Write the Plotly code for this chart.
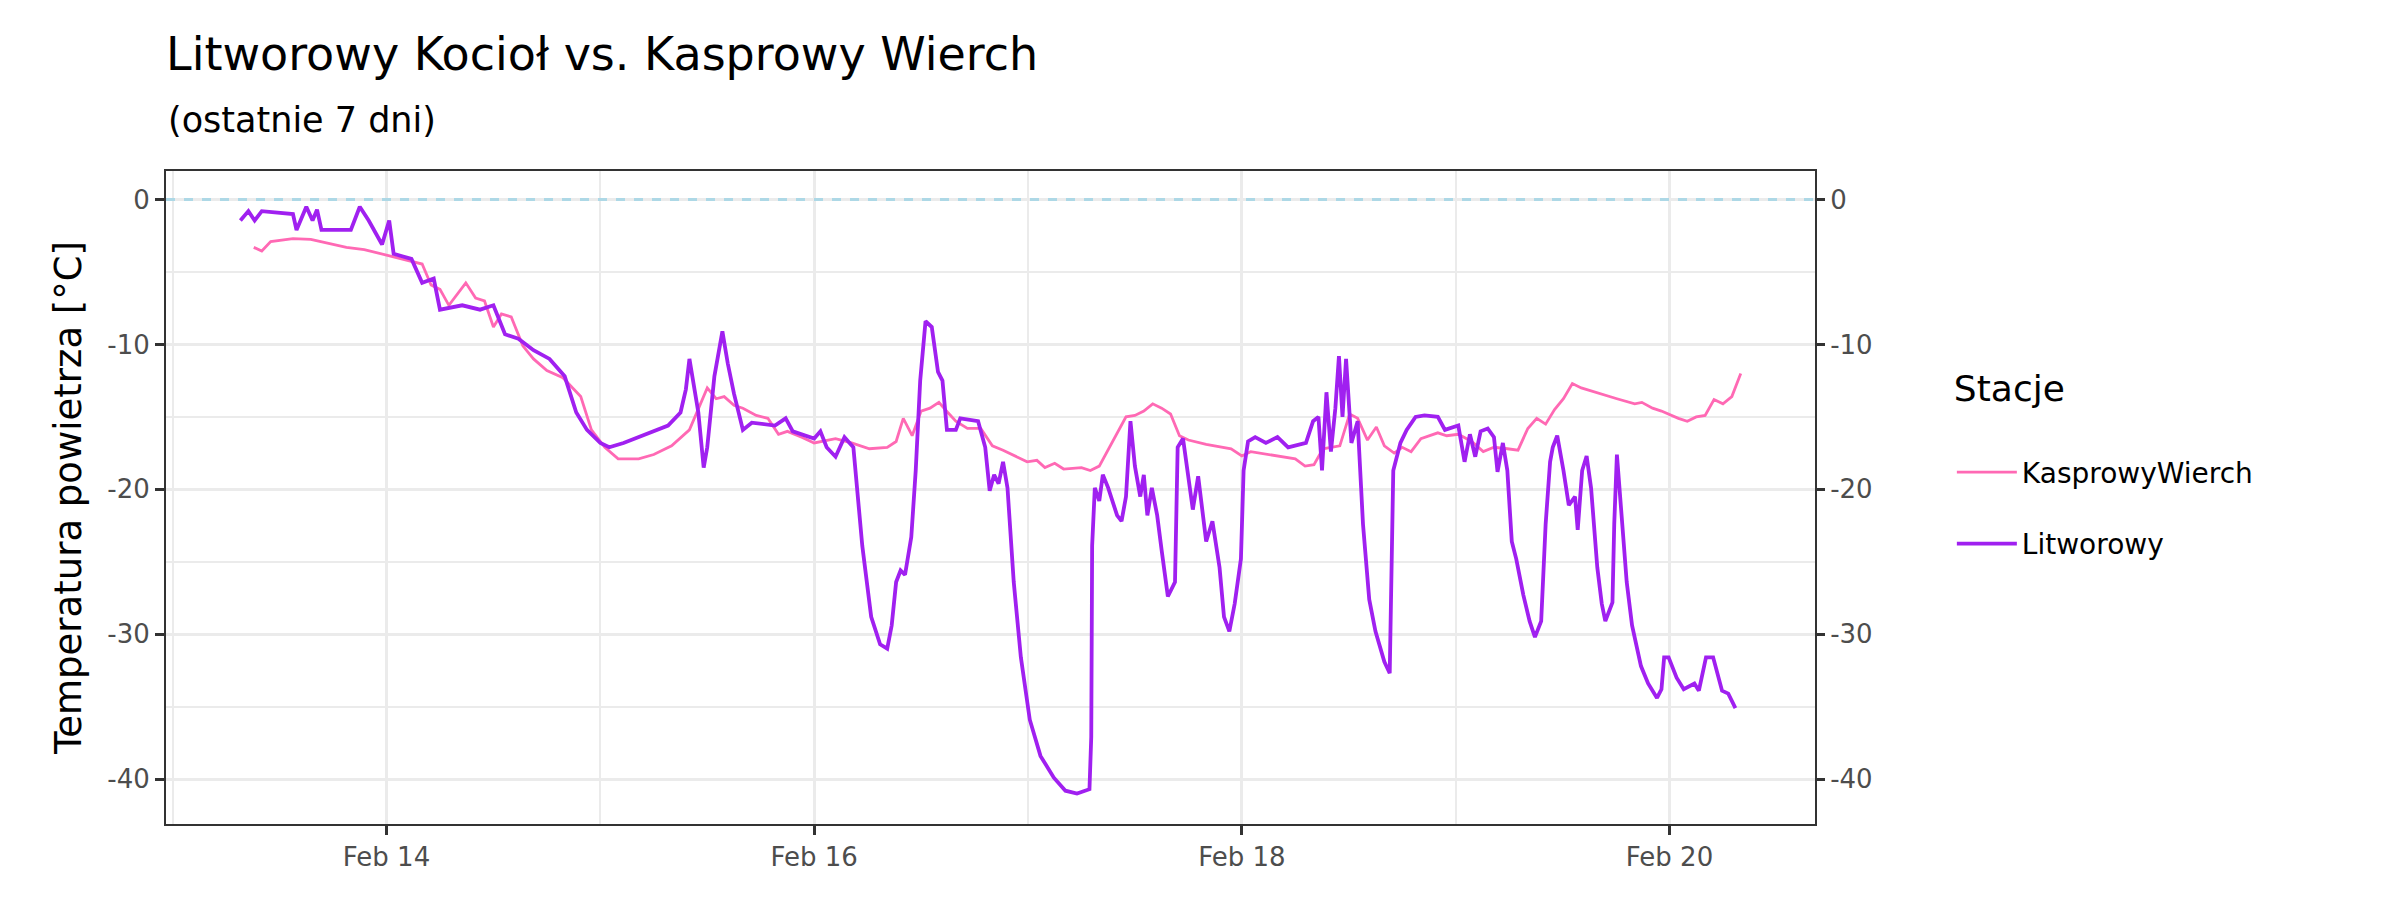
import pandas as pd
import plotly.graph_objects as go

# hours since 2025-02-13 00:00
lit_hours = [7.6, 8.5, 9.2, 10, 13.5, 13.9, 15.0, 15.7, 16.2, 16.7, 20, 21, 22, 23.5, 24.3, 24.8,
             26.8, 28, 29.3, 30, 32.5, 34.5, 36, 37.3, 38.8, 40.5, 42.3, 44, 45.3, 46.5, 48, 49,
             50.6, 53, 55.6, 57, 57.6, 58, 58.6, 59, 59.6, 60, 60.8, 61.7, 62.3, 63, 64, 65,
             67.6, 68.8, 69.6, 72, 72.7, 73.4, 74.4, 75.4, 76.4, 77.4, 78.4, 79.4, 80.2, 80.7,
             81.2, 81.7, 82.2, 82.9, 83.4, 83.9, 84.5, 85.2, 85.9, 86.4, 86.9, 87.9, 88.4, 90.4,
             91.2, 91.7, 92.2, 92.7, 93.2, 93.7, 94.4, 95.2, 96.2, 97.4, 98.9, 100.2, 101.5, 102.9,
             103.1, 103.2, 103.5, 104, 104.4, 105, 106, 106.5, 107, 107.5, 108, 108.6, 109, 109.4,
             109.9, 110.5, 111, 111.7, 112.5, 112.8, 113.4, 113.9, 114.5, 115.1, 116, 116.7, 117.5,
             118, 118.6, 119.2, 119.9, 120.2, 120.7, 121.5, 122.7, 124, 125.2, 127.2, 128, 128.6,
             129, 129.5, 130, 130.5, 130.9, 131.3, 131.7, 132.3, 133, 133.6, 134.3, 135, 136,
             136.6, 137, 137.8, 138.5, 139.5, 140.5, 142, 142.8, 144.3, 145, 145.6, 146.2, 146.8,
             147.6, 148.3, 148.7, 149.3, 149.8, 150.3, 150.8, 151.6, 152.3, 152.9, 153.6, 154.1,
             154.6, 154.9, 155.4, 156.1, 156.7, 157.4, 157.7, 158.2, 158.7, 159.2, 159.9, 160.4,
             160.8, 161.6, 161.8, 162.1, 162.6, 163.2, 163.8, 164.8, 165.6, 166.6, 167.1, 167.4,
             167.9, 168.8, 169.6, 170.8, 171.3, 172.1, 172.9, 173.9, 174.6, 175.4]
lit_temp = [-1.45, -0.8, -1.45, -0.8, -1.0, -2.1, -0.5, -1.45, -0.7, -2.1, -2.1, -0.5, -1.45, -3.1,
            -1.45, -3.75, -4.1, -5.75, -5.45, -7.6, -7.3, -7.6, -7.3, -9.3, -9.6, -10.4, -11,
            -12.2, -14.7, -15.9, -16.8, -17.1, -16.8, -16.2, -15.6, -14.7, -13.1, -11, -13.1,
            -14.7, -18.5, -17.1, -12.2, -9.1, -11.3, -13.4, -15.9, -15.4, -15.6, -15.1, -16,
            -16.5, -16, -17.1, -17.75, -16.4, -17.1, -23.9, -28.8, -30.7, -31, -29.4, -26.4,
            -25.6, -25.9, -23.3, -18.7, -12.5, -8.4, -8.8, -11.9, -12.5, -15.9, -15.9, -15.1,
            -15.3, -17.1, -20.1, -19, -19.6, -18.1, -19.9, -26.4, -31.6, -35.9, -38.4, -39.9,
            -40.8, -41, -40.7, -37.1, -23.9, -19.9, -20.8, -19, -19.9, -21.8, -22.2, -20.5,
            -15.3, -18.4, -20.5, -19, -21.8, -19.9, -21.8, -24.2, -27.4, -26.4, -17.1, -16.5,
            -18.7, -21.4, -19.1, -23.6, -22.2, -25.4, -28.8, -29.8, -27.9, -24.8, -18.7, -16.7,
            -16.4, -16.8, -16.4, -17.1, -16.8, -15.3, -15, -18.7, -13.3, -17.4, -14.4, -10.8,
            -15, -11, -16.8, -15.3, -22.4, -27.6, -29.8, -31.9, -32.7, -18.7, -16.8, -15.9, -15,
            -14.9, -15, -15.9, -15.6, -18.1, -16.2, -17.75, -16, -15.8, -16.4, -18.8, -16.8,
            -18.7, -23.6, -24.8, -27.3, -29.1, -30.2, -29.1, -22.4, -18.1, -17.1, -16.3, -18.7,
            -21.1, -20.5, -22.8, -18.7, -17.7, -19.9, -25.4, -27.9, -29.1, -27.8, -22.4, -17.6,
            -21.8, -26.4, -29.4, -32.2, -33.4, -34.4, -33.8, -31.6, -31.6, -33, -33.8, -33.4,
            -33.9, -31.6, -31.6, -33.9, -34.1, -35.1]

kas_hours = [9.1, 10, 11, 13.5, 15.5, 17.5, 19.5, 21.5, 23.5, 25.5, 28, 29, 30, 31, 32.9, 34, 35,
             36, 36.9, 38, 39.3, 40.5, 42, 43.8, 45.8, 47, 48.5, 50, 52.3, 54, 56, 58, 60, 61,
             61.9, 63, 64, 65.5, 66.8, 68, 69, 70.6, 72, 74.4, 76.2, 78.2, 80.2, 81.2, 82, 83, 84,
             85, 86, 87, 87.9, 89.2, 90.7, 92, 93.2, 95.9, 97, 97.9, 99, 100, 102, 103, 104, 107,
             108, 109, 110, 111, 112, 113, 114, 116, 118.8, 120, 121, 126, 127.1, 128.1, 129.1,
             131, 132.1, 133, 134.1, 135.1, 136, 137.1, 138, 139, 140.1, 142, 143, 144.3, 145.8,
             147.1, 148.3, 149.8, 151, 152.1, 153.1, 154.1, 155.1, 156.1, 157.1, 158.1, 160.1,
             162.1, 164.1, 164.9, 166.1, 167.1, 169, 170, 171, 172, 173, 174, 175, 176]
kas_temp = [-3.3, -3.55, -2.9, -2.7, -2.75, -3, -3.3, -3.45, -3.75, -4.1, -4.45, -5.9, -6.2, -7.3,
            -5.75, -6.8, -7, -8.8, -7.9, -8.1, -10.1, -11, -11.8, -12.3, -13.6, -15.9, -17.1,
            -17.9, -17.9, -17.6, -17, -15.9, -13, -13.75, -13.6, -14.2, -14.4, -14.9, -15.1,
            -16.2, -16, -16.4, -16.8, -16.5, -16.8, -17.2, -17.1, -16.7, -15.1, -16.3, -14.6,
            -14.4, -14, -14.7, -15.3, -15.8, -15.8, -17, -17.3, -18.1, -18, -18.5, -18.2, -18.6,
            -18.5, -18.7, -18.4, -15, -14.9, -14.6, -14.1, -14.4, -14.8, -16.3, -16.6, -16.9,
            -17.2, -17.7, -17.4, -17.9, -18.4, -18.3, -17.2, -17, -14.8, -15.1, -16.6, -15.7,
            -17, -17.5, -17.1, -17.4, -16.5, -16.1, -16.3, -16.2, -16.7, -17.4, -17.1, -17.2,
            -17.3, -15.8, -15.1, -15.5, -14.5, -13.75, -12.7, -13, -13.4, -13.75, -14.1, -14,
            -14.4, -14.6, -15.1, -15.3, -15, -14.9, -13.8, -14.1, -13.6, -12]

y_ticks = [0, -10, -20, -30, -40]
y_labels = ["0", "-10", "-20", "-30", "-40"]

start = pd.Timestamp("2025-02-13")
lit_time = start + pd.to_timedelta(lit_hours, unit="h")
kas_time = start + pd.to_timedelta(kas_hours, unit="h")

x_range = [pd.Timestamp("2025-02-12 23:15"), pd.Timestamp("2025-02-20 16:20")]
y_range = [-43.1, 1.97]
tick_font = dict(family="DejaVu Sans", size=26, color="#4D4D4D")

fig = go.Figure()
fig.add_trace(go.Scatter(x=kas_time, y=kas_temp, mode="lines", name="KasprowyWierch",
                         legendgroup="k", line=dict(color="#FF69B4", width=2.8)))
fig.add_trace(go.Scatter(x=lit_time, y=lit_temp, mode="lines", name="Litworowy",
                         legendgroup="l", line=dict(color="#A020F0", width=3.8)))
# invisible trace so the right axis is drawn
fig.add_trace(go.Scatter(x=[lit_time[0]], y=[0], yaxis="y2", mode="lines",
                         showlegend=False, hoverinfo="skip", line=dict(width=0)))
fig.add_hline(y=0, line_dash="dash", line_color="#ADD8E6", line_width=3)

grid = dict(showgrid=True, gridcolor="#EBEBEB", gridwidth=2.5,
            ticks="outside", ticklen=9, tickwidth=2.5, tickcolor="#333333",
            showline=True, linecolor="#333333", linewidth=2, mirror=True,
            zeroline=False, tickfont=tick_font)

fig.update_layout(
    width=2400, height=900,
    plot_bgcolor="white", paper_bgcolor="white",
    margin=dict(l=158, r=593, t=163, b=84),
    font=dict(family="DejaVu Sans"),
    title=dict(text="Litworowy Kocioł vs. Kasprowy Wierch",
               x=158 / 2400, xanchor="left", yref="container", y=1 - 46 / 900, yanchor="middle",
               font=dict(size=46, color="black")),
    annotations=[dict(text="(ostatnie 7 dni)", xref="paper", yref="paper", x=0, y=1 + 51 / 653.5,
                      xanchor="left", yanchor="middle", showarrow=False,
                      font=dict(size=35, color="black"))],
    xaxis=dict(range=x_range, tickformat="%b %d", dtick=2 * 86400000,
               tick0="2025-02-14", minor=dict(dtick=86400000, tick0="2025-02-13",
                                              showgrid=True, gridcolor="#EBEBEB", gridwidth=1.5),
               **grid),
    yaxis=dict(range=y_range, tickvals=y_ticks, ticktext=y_labels,
               minor=dict(dtick=5, tick0=0, showgrid=True, gridcolor="#EBEBEB", gridwidth=1.5),
               title=dict(text="Temperatura powietrza [°C]", font=dict(size=37, color="black"),
                          standoff=14),
               **grid),
    yaxis2=dict(range=y_range, tickvals=y_ticks, ticktext=y_labels, overlaying="y", side="right",
                showgrid=False, ticks="outside", ticklen=9, tickwidth=2.5, tickcolor="#333333",
                zeroline=False, tickfont=tick_font),
    legend=dict(x=1.083, y=0.72, xanchor="left", yanchor="top",
                title=dict(text="Stacje<br> ", font=dict(size=36, color="black")),
                font=dict(size=28, color="black"), tracegroupgap=32, itemwidth=60),
)

fig.write_html("out.html")
